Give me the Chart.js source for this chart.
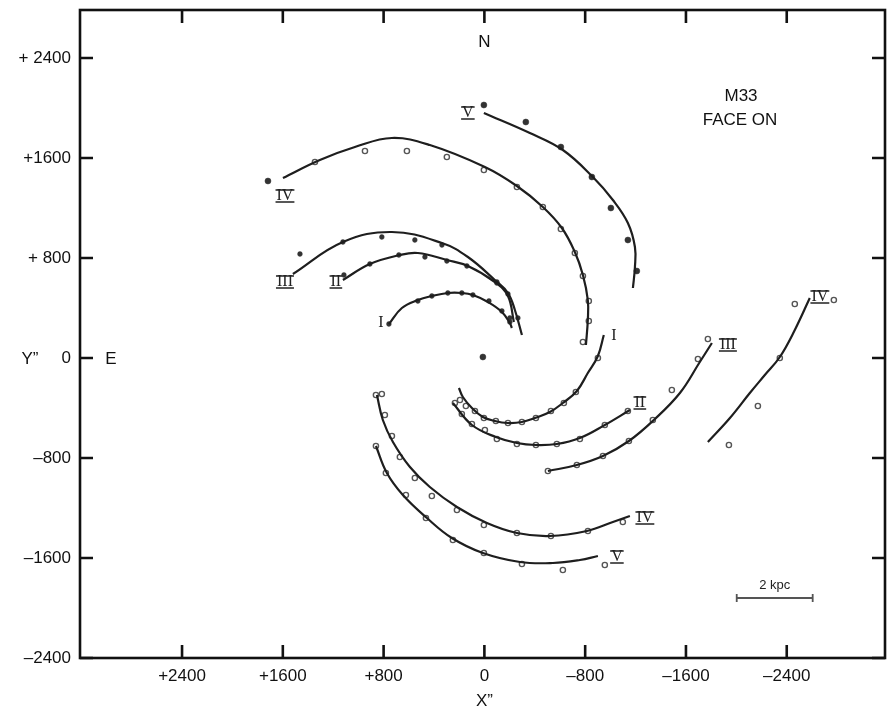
<!DOCTYPE html>
<html>
<head>
<meta charset="utf-8">
<script src="https://cdn.jsdelivr.net/npm/chart.js@4.4.1/dist/chart.umd.min.js"></script>
<style>
  body { margin: 0; background: #fff; }
  canvas { display: block; }
</style>
</head>
<body>
<canvas id="m33" width="887" height="717"></canvas>
<script>
// axis ticks (arcsec)
const xTicks = [2400, 1600, 800, 0, -800, -1600, -2400];
const xTickLabels = ['+2400', '+1600', '+800', '0', '\u2013800', '\u20131600', '\u20132400'];
const yTicks = [2400, 1600, 800, 0, -800, -1600, -2400];
const yTickLabels = ['+ 2400', '+1600', '+ 800', '0', '\u2013800', '\u20131600', '\u20132400'];

// fitted arms [x", y"] and measured points
const armIVnCurve = [[1599,1440],[1306,1584],[1028,1688],[734,1760],[433,1704],[-4,1528],[-258,1376],[-464,1208],[-615,1040],[-718,848],[-782,664],[-821,464],[-821,304],[-806,104]];
const armIVnFilled = [[1718,1416]];
const armIVnOpen = [[1345,1568],[948,1656],[615,1656],[298,1608],[4,1504],[-258,1368],[-464,1208],[-607,1032],[-718,840],[-782,656],[-829,456],[-829,296],[-782,128]];

const armVnCurve = [[4,1960],[-361,1800],[-623,1664],[-861,1448],[-1020,1264],[-1139,1080],[-1195,888],[-1195,728],[-1179,560]];
const armVnFilled = [[4,2024],[-329,1888],[-607,1688],[-853,1448],[-1004,1200],[-1139,944],[-1210,696]];

const armIIInCurve = [[1520,672],[1123,928],[734,1008],[337,920],[131,808],[-83,624],[-187,520],[-242,384],[-298,184]];
const armIIInFilled = [[1464,832],[1123,928],[814,968],[552,944],[337,904],[-99,608],[-187,512],[-266,320]];

const armIInCurve = [[1123,624],[909,752],[671,824],[528,840],[298,784],[131,736],[-83,608],[-187,496],[-234,288]];
const armIInFilled = [[1115,664],[909,752],[679,824],[472,808],[298,776],[139,736],[-99,600],[-202,320]];

const armInCurve = [[758,272],[655,400],[528,464],[417,496],[290,520],[179,520],[91,504],[-28,448],[-139,368],[-202,280],[-218,240]];
const armInFilled = [[758,272],[528,456],[417,496],[290,520],[179,520],[91,504],[-36,456],[-139,376],[-202,288]];

const nucleus = [[12,8]];

const armIsCurve = [[-948,184],[-901,16],[-821,-120],[-734,-264],[-623,-360],[-520,-432],[-401,-480],[-298,-512],[-187,-520],[-83,-504],[12,-472],[99,-400],[171,-312],[202,-240]];
const armIsOpen = [[-901,0],[-726,-272],[-631,-360],[-528,-424],[-409,-480],[-298,-512],[-187,-520],[-91,-504],[4,-480],[75,-424],[147,-384],[194,-336]];

const armIIsCurve = [[250,-360],[99,-536],[-91,-632],[-258,-680],[-409,-696],[-575,-688],[-758,-640],[-956,-536],[-1155,-416]];
const armIIsOpen = [[234,-360],[179,-448],[99,-528],[-4,-576],[-99,-648],[-258,-688],[-409,-696],[-575,-688],[-758,-648],[-956,-536],[-1139,-424]];

const armIIIsCurve = [[-504,-904],[-734,-856],[-941,-784],[-1147,-664],[-1345,-496],[-1552,-280],[-1710,-32],[-1806,120]];
const armIIIsOpen = [[-504,-904],[-734,-856],[-941,-784],[-1147,-664],[-1337,-496],[-1488,-256],[-1695,-8],[-1774,152]];

const armIVeCurve = [[-1774,-672],[-1949,-480],[-2107,-280],[-2226,-136],[-2345,8],[-2464,224],[-2583,480]];
const armIVeOpen = [[-1941,-696],[-2171,-384],[-2345,0],[-2464,432],[-2774,464]];

const armIVsCurve = [[853,-296],[806,-496],[726,-672],[591,-872],[433,-1032],[218,-1192],[-20,-1320],[-258,-1400],[-520,-1424],[-814,-1384],[-1020,-1312],[-1155,-1264]];
const armIVsOpen = [[861,-296],[814,-288],[790,-456],[734,-624],[671,-792],[552,-960],[417,-1104],[218,-1216],[4,-1336],[-258,-1400],[-528,-1424],[-822,-1384],[-1099,-1312]];

const armVsCurve = [[861,-704],[774,-920],[647,-1096],[456,-1280],[258,-1440],[12,-1560],[-282,-1632],[-544,-1640],[-758,-1616],[-901,-1584]];
const armVsOpen = [[861,-704],[782,-920],[623,-1096],[464,-1280],[250,-1456],[4,-1560],[-298,-1648],[-623,-1696],[-956,-1656]];

// arm names
const armLabels = [
  ['IV', 1583, 1296], ['V', 131, 1960], ['III', 1583, 608], ['II', 1179, 608], ['I', 821, 280],
  ['I', -1028, 176], ['III', -1933, 104], ['II', -1234, -360], ['IV', -2663, 488],
  ['IV', -1274, -1280], ['V', -1052, -1592]
];

const pts = arr => arr.map(p => ({x: p[0], y: p[1]}));

function curve(arr) {
  return {
    data: pts(arr), showLine: true, pointRadius: 0, tension: 0.4,
    borderColor: '#1e1e1e', borderWidth: 2.2, fill: false
  };
}
function filled(arr, r) {
  return {
    data: pts(arr), showLine: false, pointRadius: r || 3,
    pointBackgroundColor: '#333', pointBorderColor: '#333', pointBorderWidth: 0.5
  };
}
function open(arr) {
  return {
    data: pts(arr), showLine: false, pointRadius: 2.6,
    pointBackgroundColor: '#fff', pointBorderColor: '#555', pointBorderWidth: 1.4
  };
}

const datasets = [
  curve(armIVnCurve), curve(armVnCurve), curve(armIIInCurve), curve(armIInCurve), curve(armInCurve),
  curve(armIsCurve), curve(armIIsCurve), curve(armIIIsCurve), curve(armIVeCurve), curve(armIVsCurve), curve(armVsCurve),
  filled(armIVnFilled), open(armIVnOpen), filled(armVnFilled),
  filled(armIIInFilled, 2.4), filled(armIInFilled, 2.4), filled(armInFilled, 2.4), filled(nucleus, 3),
  open(armIsOpen), open(armIIsOpen), open(armIIIsOpen), open(armIVeOpen), open(armIVsOpen), open(armVsOpen)
];

const sans = '"Liberation Sans", Arial, sans-serif';

const frame = {
  id: 'frame',
  afterDraw(chart) {
    const {ctx, chartArea: a, scales: {x, y}} = chart;
    ctx.save();
    ctx.strokeStyle = '#111';
    ctx.lineWidth = 2.6;
    ctx.strokeRect(a.left, a.top, a.right - a.left, a.bottom - a.top);
    ctx.beginPath();
    const len = 13;
    xTicks.forEach(v => {
      const p = x.getPixelForValue(v);
      ctx.moveTo(p, a.bottom); ctx.lineTo(p, a.bottom - len);
      ctx.moveTo(p, a.top); ctx.lineTo(p, a.top + len);
    });
    yTicks.forEach(v => {
      const p = y.getPixelForValue(v);
      ctx.moveTo(a.left, p); ctx.lineTo(a.left + len, p);
      ctx.moveTo(a.right, p); ctx.lineTo(a.right - len, p);
    });
    ctx.stroke();

    // compass and axis names
    ctx.fillStyle = '#111';
    ctx.font = '17px ' + sans;
    ctx.textAlign = 'center';
    ctx.textBaseline = 'middle';
    ctx.fillText('N', x.getPixelForValue(0), 42);
    ctx.fillText('E', a.left + 31, y.getPixelForValue(0) + 1);
    ctx.fillText('Y\u201D', 30, y.getPixelForValue(0) + 1);
    ctx.fillText('X\u201D', x.getPixelForValue(0), 701);
    ctx.fillText('M33', 741, 96);
    ctx.fillText('FACE ON', 740, 120);

    // 2 kpc bar
    const bx0 = x.getPixelForValue(-2003), bx1 = x.getPixelForValue(-2606), by = y.getPixelForValue(-1920);
    ctx.strokeStyle = '#555';
    ctx.lineWidth = 1.8;
    ctx.beginPath();
    ctx.moveTo(bx0, by); ctx.lineTo(bx1, by);
    ctx.moveTo(bx0, by - 4); ctx.lineTo(bx0, by + 4);
    ctx.moveTo(bx1, by - 4); ctx.lineTo(bx1, by + 4);
    ctx.stroke();
    ctx.fillStyle = '#222';
    ctx.font = '13px ' + sans;
    ctx.fillText('2 kpc', (bx0 + bx1) / 2, by - 13);

    // roman arm numbers with bars
    ctx.font = '16px "Liberation Serif", "DejaVu Serif", serif';
    ctx.strokeStyle = '#222';
    ctx.lineWidth = 1.3;
    armLabels.forEach(([t, vx, vy]) => {
      const px = x.getPixelForValue(vx), py = y.getPixelForValue(vy);
      ctx.fillStyle = '#222';
      ctx.fillText(t, px, py);
      if (t !== 'I') {
        const w = ctx.measureText(t).width + 2;
        ctx.beginPath();
        ctx.moveTo(px - w / 2, py - 6); ctx.lineTo(px + w / 2, py - 6);
        ctx.moveTo(px - w / 2, py + 6); ctx.lineTo(px + w / 2, py + 6);
        ctx.stroke();
      }
    });
    ctx.restore();
  }
};

new Chart(document.getElementById('m33'), {
  type: 'scatter',
  data: { datasets },
  options: {
    responsive: false,
    animation: false,
    layout: { autoPadding: false, padding: { top: 10, right: 2, left: 0, bottom: 0 } },
    plugins: { legend: { display: false }, tooltip: { enabled: false } },
    scales: {
      x: {
        type: 'linear', reverse: true, min: -3180, max: 3210,
        grid: { display: false, drawTicks: false }, border: { display: false },
        afterBuildTicks: s => { s.ticks = xTicks.map(v => ({value: v})); },
        afterFit: s => { s.height = 59; s.paddingLeft = 0; s.paddingRight = 0; },
        ticks: {
          padding: 8, color: '#111', maxRotation: 0, autoSkip: false,
          font: { family: sans, size: 17 },
          callback: (v, i) => xTickLabels[i]
        }
      },
      y: {
        type: 'linear', min: -2400, max: 2784,
        grid: { display: false, drawTicks: false }, border: { display: false },
        afterBuildTicks: s => { s.ticks = yTicks.map(v => ({value: v})); },
        afterFit: s => { s.width = 80; s.paddingTop = 0; s.paddingBottom = 0; },
        ticks: {
          padding: 9, color: '#111', autoSkip: false,
          font: { family: sans, size: 17 },
          callback: (v, i) => yTickLabels[i]
        }
      }
    }
  },
  plugins: [frame]
});
</script>
</body>
</html>
